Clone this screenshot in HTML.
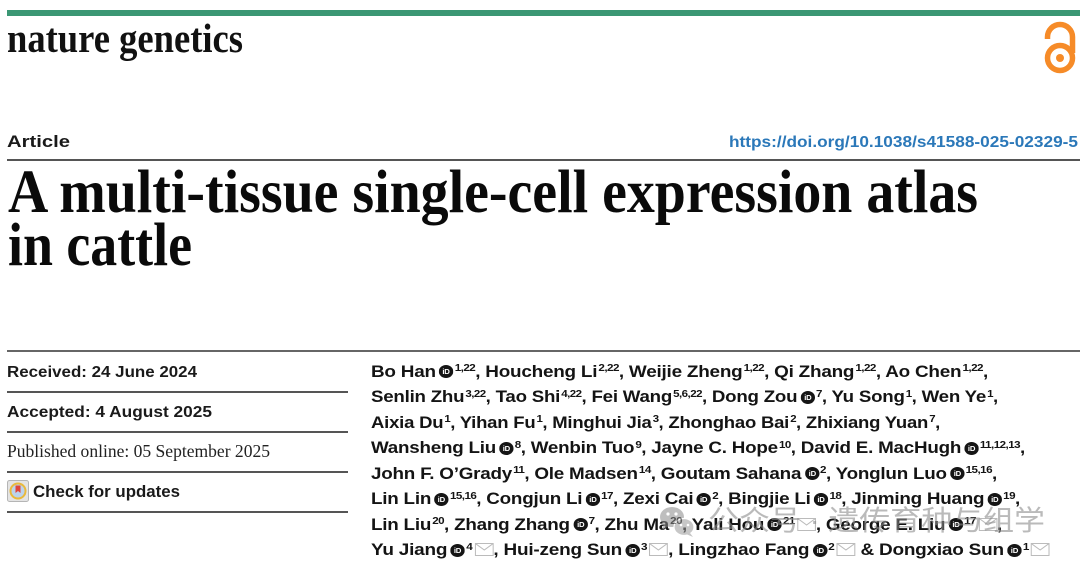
<!DOCTYPE html>
<html>
<head>
<meta charset="utf-8">
<style>
  html,body{margin:0;padding:0;background:#fff;}
  body{width:1080px;height:565px;position:relative;overflow:hidden;}
  .al{position:absolute;left:371px;white-space:nowrap;font-family:"Liberation Sans",sans-serif;font-weight:bold;font-size:17px;line-height:25px;color:#141414;transform-origin:0 0;letter-spacing:-0.2px;}
  .al sup{font-size:10.5px;position:relative;top:-5.5px;line-height:0;vertical-align:baseline;margin-left:1px;letter-spacing:-0.5px;}
  .o{display:inline-block;vertical-align:-1.5px;margin-left:3px;width:13px;height:13px;}
  .m{display:inline-block;vertical-align:-1px;margin-left:2px;}
  svg.top{position:absolute;left:0;top:0;}
</style>
</head>
<body>
<svg class="top" width="1080" height="565" viewBox="0 0 1080 565">
  <rect x="7" y="10" width="1073" height="6" fill="#3b9774"/>
  <text x="7" y="52" font-family="Liberation Serif, serif" font-weight="bold" font-size="41" textLength="236" lengthAdjust="spacingAndGlyphs" fill="#111">nature genetics</text>
  <!-- open access icon -->
  <g fill="none" stroke="#f68b28" stroke-width="5.5">
    <path d="M1047.5 39 V37 A12.5 12.5 0 0 1 1072.5 37 V53"/>
    <circle cx="1060" cy="58" r="12.5"/>
  </g>
  <circle cx="1060" cy="58" r="4" fill="#f68b28"/>

  <text x="7" y="147" font-family="Liberation Sans, sans-serif" font-weight="bold" font-size="17" textLength="63" lengthAdjust="spacingAndGlyphs" fill="#1a1a1a">Article</text>
  <text x="729" y="147" font-family="Liberation Sans, sans-serif" font-weight="bold" font-size="16" textLength="349" lengthAdjust="spacingAndGlyphs" fill="#2b78b9">https://doi.org/10.1038/s41588-025-02329-5</text>
  <rect x="7" y="159" width="1073" height="2" fill="#555"/>

  <text x="8" y="212" font-family="Liberation Serif, serif" font-weight="bold" font-size="61" textLength="970" lengthAdjust="spacingAndGlyphs" fill="#0a0a0a">A multi-tissue single-cell expression atlas</text>
  <text x="8" y="265" font-family="Liberation Serif, serif" font-weight="bold" font-size="61" textLength="184" lengthAdjust="spacingAndGlyphs" fill="#0a0a0a">in cattle</text>

  <rect x="7" y="350" width="1073" height="2" fill="#666"/>
  <rect x="7" y="391" width="341" height="2" fill="#555"/>
  <rect x="7" y="431" width="341" height="2" fill="#555"/>
  <rect x="7" y="471" width="341" height="2" fill="#555"/>
  <rect x="7" y="511" width="341" height="2" fill="#555"/>

  <text x="7" y="377" font-family="Liberation Sans, sans-serif" font-weight="bold" font-size="16" textLength="190" lengthAdjust="spacingAndGlyphs" fill="#1a1a1a">Received: 24 June 2024</text>
  <text x="7" y="417" font-family="Liberation Sans, sans-serif" font-weight="bold" font-size="16" textLength="205" lengthAdjust="spacingAndGlyphs" fill="#1a1a1a">Accepted: 4 August 2025</text>
  <text x="7" y="457" font-family="Liberation Serif, serif" font-size="18" textLength="263" lengthAdjust="spacingAndGlyphs" fill="#222">Published online: 05 September 2025</text>

  <!-- check for updates icon -->
  <rect x="7.5" y="480.5" width="21" height="21" rx="2" fill="#e4e4e4" stroke="#b5b5b5"/>
  <circle cx="18" cy="491" r="7.5" fill="#bcd3ec" stroke="#e9b93c" stroke-width="2"/>
  <path d="M15.5 485.5 H20.5 V493 L18 491 L15.5 493 Z" fill="#e0443a"/>
  <text x="33" y="497" font-family="Liberation Sans, sans-serif" font-weight="bold" font-size="17" textLength="147" lengthAdjust="spacingAndGlyphs" fill="#1a1a1a">Check for updates</text>
</svg>

<div class="al" style="top:358.6px">Bo Han<svg class="o" viewBox="0 0 13 13"><circle cx="6.5" cy="6.5" r="6.5" fill="#151515"/><text x="6.5" y="9" text-anchor="middle" font-family="Liberation Sans, sans-serif" font-weight="bold" font-size="7" fill="#fff">iD</text></svg><sup>1,22</sup>, Houcheng Li<sup>2,22</sup>, Weijie Zheng<sup>1,22</sup>, Qi Zhang<sup>1,22</sup>, Ao Chen<sup>1,22</sup>,</div>
<div class="al" style="top:384.1px">Senlin Zhu<sup>3,22</sup>, Tao Shi<sup>4,22</sup>, Fei Wang<sup>5,6,22</sup>, Dong Zou<svg class="o" viewBox="0 0 13 13"><circle cx="6.5" cy="6.5" r="6.5" fill="#151515"/><text x="6.5" y="9" text-anchor="middle" font-family="Liberation Sans, sans-serif" font-weight="bold" font-size="7" fill="#fff">iD</text></svg><sup>7</sup>, Yu Song<sup>1</sup>, Wen Ye<sup>1</sup>,</div>
<div class="al" style="top:409.6px">Aixia Du<sup>1</sup>, Yihan Fu<sup>1</sup>, Minghui Jia<sup>3</sup>, Zhonghao Bai<sup>2</sup>, Zhixiang Yuan<sup>7</sup>,</div>
<div class="al" style="top:435.1px">Wansheng Liu<svg class="o" viewBox="0 0 13 13"><circle cx="6.5" cy="6.5" r="6.5" fill="#151515"/><text x="6.5" y="9" text-anchor="middle" font-family="Liberation Sans, sans-serif" font-weight="bold" font-size="7" fill="#fff">iD</text></svg><sup>8</sup>, Wenbin Tuo<sup>9</sup>, Jayne C. Hope<sup>10</sup>, David E. MacHugh<svg class="o" viewBox="0 0 13 13"><circle cx="6.5" cy="6.5" r="6.5" fill="#151515"/><text x="6.5" y="9" text-anchor="middle" font-family="Liberation Sans, sans-serif" font-weight="bold" font-size="7" fill="#fff">iD</text></svg><sup>11,12,13</sup>,</div>
<div class="al" style="top:460.6px">John F. O’Grady<sup>11</sup>, Ole Madsen<sup>14</sup>, Goutam Sahana<svg class="o" viewBox="0 0 13 13"><circle cx="6.5" cy="6.5" r="6.5" fill="#151515"/><text x="6.5" y="9" text-anchor="middle" font-family="Liberation Sans, sans-serif" font-weight="bold" font-size="7" fill="#fff">iD</text></svg><sup>2</sup>, Yonglun Luo<svg class="o" viewBox="0 0 13 13"><circle cx="6.5" cy="6.5" r="6.5" fill="#151515"/><text x="6.5" y="9" text-anchor="middle" font-family="Liberation Sans, sans-serif" font-weight="bold" font-size="7" fill="#fff">iD</text></svg><sup>15,16</sup>,</div>
<div class="al" style="top:486.1px">Lin Lin<svg class="o" viewBox="0 0 13 13"><circle cx="6.5" cy="6.5" r="6.5" fill="#151515"/><text x="6.5" y="9" text-anchor="middle" font-family="Liberation Sans, sans-serif" font-weight="bold" font-size="7" fill="#fff">iD</text></svg><sup>15,16</sup>, Congjun Li<svg class="o" viewBox="0 0 13 13"><circle cx="6.5" cy="6.5" r="6.5" fill="#151515"/><text x="6.5" y="9" text-anchor="middle" font-family="Liberation Sans, sans-serif" font-weight="bold" font-size="7" fill="#fff">iD</text></svg><sup>17</sup>, Zexi Cai<svg class="o" viewBox="0 0 13 13"><circle cx="6.5" cy="6.5" r="6.5" fill="#151515"/><text x="6.5" y="9" text-anchor="middle" font-family="Liberation Sans, sans-serif" font-weight="bold" font-size="7" fill="#fff">iD</text></svg><sup>2</sup>, Bingjie Li<svg class="o" viewBox="0 0 13 13"><circle cx="6.5" cy="6.5" r="6.5" fill="#151515"/><text x="6.5" y="9" text-anchor="middle" font-family="Liberation Sans, sans-serif" font-weight="bold" font-size="7" fill="#fff">iD</text></svg><sup>18</sup>, Jinming Huang<svg class="o" viewBox="0 0 13 13"><circle cx="6.5" cy="6.5" r="6.5" fill="#151515"/><text x="6.5" y="9" text-anchor="middle" font-family="Liberation Sans, sans-serif" font-weight="bold" font-size="7" fill="#fff">iD</text></svg><sup>19</sup>,</div>
<div class="al" style="top:511.6px">Lin Liu<sup>20</sup>, Zhang Zhang<svg class="o" viewBox="0 0 13 13"><circle cx="6.5" cy="6.5" r="6.5" fill="#151515"/><text x="6.5" y="9" text-anchor="middle" font-family="Liberation Sans, sans-serif" font-weight="bold" font-size="7" fill="#fff">iD</text></svg><sup>7</sup>, Zhu Ma<sup>20</sup>, Yali Hou<svg class="o" viewBox="0 0 13 13"><circle cx="6.5" cy="6.5" r="6.5" fill="#151515"/><text x="6.5" y="9" text-anchor="middle" font-family="Liberation Sans, sans-serif" font-weight="bold" font-size="7" fill="#fff">iD</text></svg><sup>21</sup><span class="m"><svg width="17" height="13" viewBox="0 0 17 13"><rect x="0.5" y="0.5" width="16" height="12" fill="none" stroke="#bbb"/><path d="M0.5 0.5 L8.5 7 L16.5 0.5" fill="none" stroke="#bbb"/></svg></span>, George E. Liu<svg class="o" viewBox="0 0 13 13"><circle cx="6.5" cy="6.5" r="6.5" fill="#151515"/><text x="6.5" y="9" text-anchor="middle" font-family="Liberation Sans, sans-serif" font-weight="bold" font-size="7" fill="#fff">iD</text></svg><sup>17</sup><span class="m"><svg width="17" height="13" viewBox="0 0 17 13"><rect x="0.5" y="0.5" width="16" height="12" fill="none" stroke="#bbb"/><path d="M0.5 0.5 L8.5 7 L16.5 0.5" fill="none" stroke="#bbb"/></svg></span>,</div>
<div class="al" style="top:537.1px">Yu Jiang<svg class="o" viewBox="0 0 13 13"><circle cx="6.5" cy="6.5" r="6.5" fill="#151515"/><text x="6.5" y="9" text-anchor="middle" font-family="Liberation Sans, sans-serif" font-weight="bold" font-size="7" fill="#fff">iD</text></svg><sup>4</sup><span class="m"><svg width="17" height="13" viewBox="0 0 17 13"><rect x="0.5" y="0.5" width="16" height="12" fill="none" stroke="#bbb"/><path d="M0.5 0.5 L8.5 7 L16.5 0.5" fill="none" stroke="#bbb"/></svg></span>, Hui-zeng Sun<svg class="o" viewBox="0 0 13 13"><circle cx="6.5" cy="6.5" r="6.5" fill="#151515"/><text x="6.5" y="9" text-anchor="middle" font-family="Liberation Sans, sans-serif" font-weight="bold" font-size="7" fill="#fff">iD</text></svg><sup>3</sup><span class="m"><svg width="17" height="13" viewBox="0 0 17 13"><rect x="0.5" y="0.5" width="16" height="12" fill="none" stroke="#bbb"/><path d="M0.5 0.5 L8.5 7 L16.5 0.5" fill="none" stroke="#bbb"/></svg></span>, Lingzhao Fang<svg class="o" viewBox="0 0 13 13"><circle cx="6.5" cy="6.5" r="6.5" fill="#151515"/><text x="6.5" y="9" text-anchor="middle" font-family="Liberation Sans, sans-serif" font-weight="bold" font-size="7" fill="#fff">iD</text></svg><sup>2</sup><span class="m"><svg width="17" height="13" viewBox="0 0 17 13"><rect x="0.5" y="0.5" width="16" height="12" fill="none" stroke="#bbb"/><path d="M0.5 0.5 L8.5 7 L16.5 0.5" fill="none" stroke="#bbb"/></svg></span> &amp; Dongxiao Sun<svg class="o" viewBox="0 0 13 13"><circle cx="6.5" cy="6.5" r="6.5" fill="#151515"/><text x="6.5" y="9" text-anchor="middle" font-family="Liberation Sans, sans-serif" font-weight="bold" font-size="7" fill="#fff">iD</text></svg><sup>1</sup><span class="m"><svg width="17" height="13" viewBox="0 0 17 13"><rect x="0.5" y="0.5" width="16" height="12" fill="none" stroke="#bbb"/><path d="M0.5 0.5 L8.5 7 L16.5 0.5" fill="none" stroke="#bbb"/></svg></span></div>

<!-- watermark -->
<svg class="top" width="1080" height="565" viewBox="0 0 1080 565" style="pointer-events:none">
  <g opacity="0.55">
    <ellipse cx="672" cy="517" rx="12" ry="10" fill="#8a8a8a"/>
    <path d="M664 524 L662 530 L669 526 Z" fill="#8a8a8a"/>
    <ellipse cx="684" cy="527" rx="10" ry="8.5" fill="#9a9a9a" stroke="#fff" stroke-width="1.2"/>
    <path d="M690 533 L693 537 L686 534 Z" fill="#9a9a9a"/>
    <circle cx="668" cy="514" r="1.6" fill="#fff"/>
    <circle cx="676" cy="514" r="1.6" fill="#fff"/>
    <circle cx="681" cy="525" r="1.3" fill="#fff"/>
    <circle cx="688" cy="525" r="1.3" fill="#fff"/>
  </g>
  <text x="708" y="530" font-family="Liberation Sans, Noto Sans CJK SC, sans-serif" font-size="28" textLength="337" lengthAdjust="spacingAndGlyphs" fill="#8c8c8c" fill-opacity="0.6">公众号 · 遗传育种与组学</text>
</svg>

<script>
(function(){
  var T=[617,627,569,654,626,649,631,679];
  var els=document.querySelectorAll('.al');
  for(var i=0;i<els.length;i++){
    var w=els[i].getBoundingClientRect().width;
    if(w>0){els[i].style.transform='scaleX('+(T[i]/w)+')';}
  }
})();
</script>
</body>
</html>
